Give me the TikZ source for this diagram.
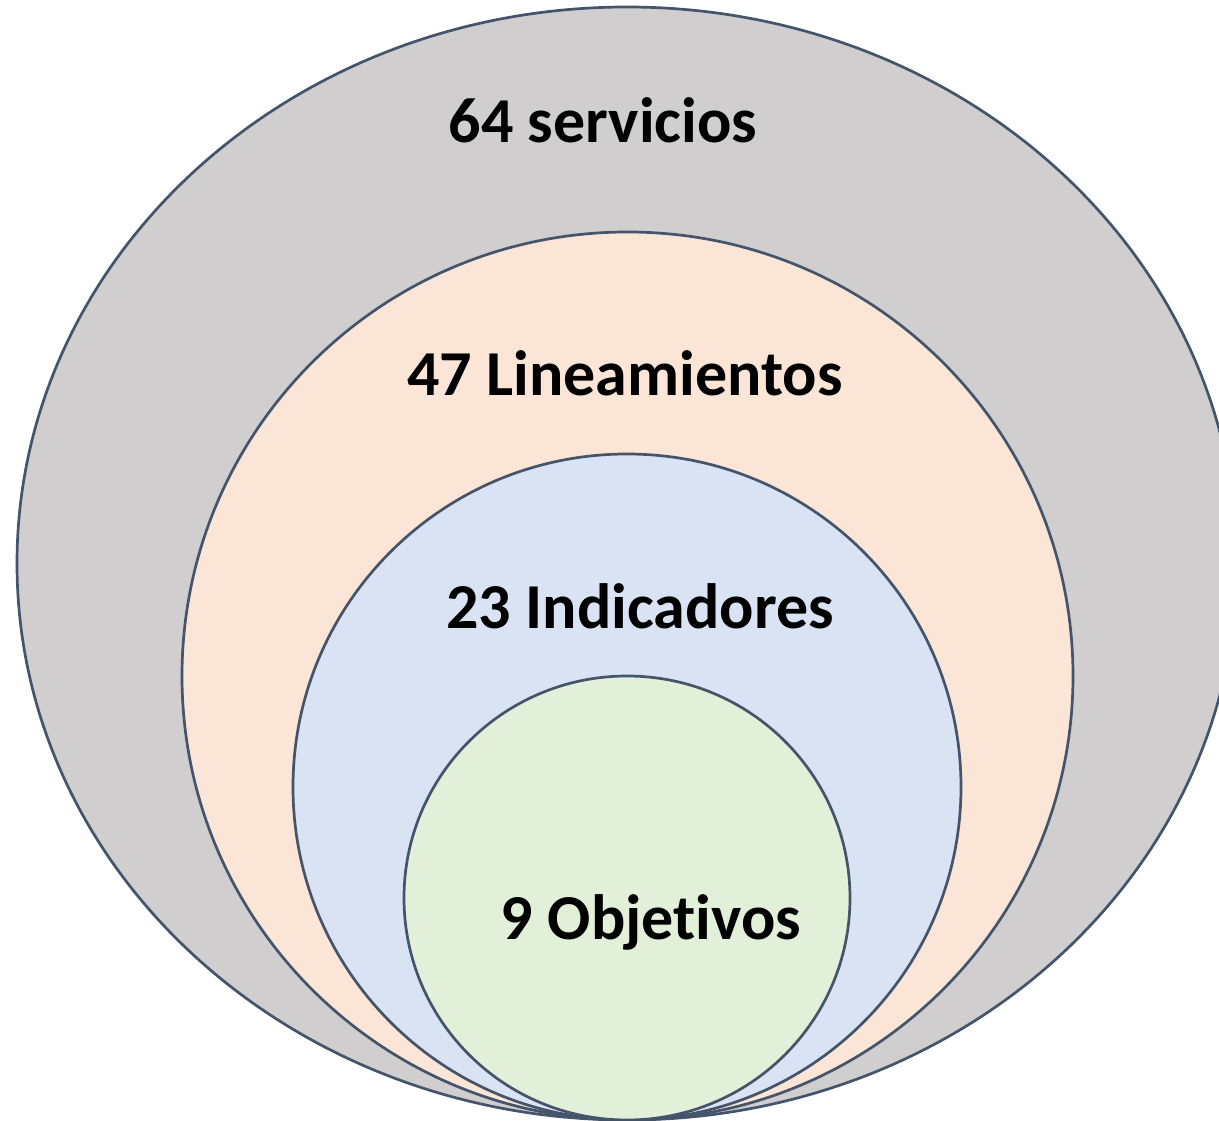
\documentclass[tikz,border=0pt]{standalone}
\usepackage{fontspec}
\setmainfont[RawFeature=-liga]{Carlito}
\usetikzlibrary{shapes.geometric}
\definecolor{edge}{HTML}{44546A}
\definecolor{cgray}{HTML}{D0CECE}
\definecolor{cpeach}{HTML}{FBE5D6}
\definecolor{cblue}{HTML}{DAE3F3}
\definecolor{cgreen}{HTML}{E2F0D9}
\tikzset{
  ring/.style={ellipse, draw=edge, line width=2.7pt, inner sep=0pt, outer sep=0pt},
  lbl/.style={font=\fontsize{64}{70}\selectfont\bfseries, anchor=base, inner sep=0pt, text=black}
}
\begin{document}
\begin{tikzpicture}[x=1pt,y=-1pt]
\useasboundingbox (0,0) rectangle (1219,1121);
\clip (0,0) rectangle (1219,1121);
\node[ring, fill=cgray, minimum width=1220pt, minimum height=1113pt] (outer) at (627,563.5) {};
\node[ring, fill=cpeach, minimum width=891pt, minimum height=888pt] (peach) at (627.5,676) {};
\node[ring, fill=cblue, minimum width=668pt, minimum height=666pt] (blue) at (627,787) {};
\node[ring, fill=cgreen, minimum width=446pt, minimum height=444pt] (green) at (627,898) {};
\node[lbl] (t1) at (603,143) {64 servicios};
\node[lbl] (t2) at (625,395) {47 Lineamientos};
\node[lbl] (t3) at (640,628) {23 Indicadores};
\node[lbl] (t4) at (651,939) {9 Objetivos};
\end{tikzpicture}
\end{document}
